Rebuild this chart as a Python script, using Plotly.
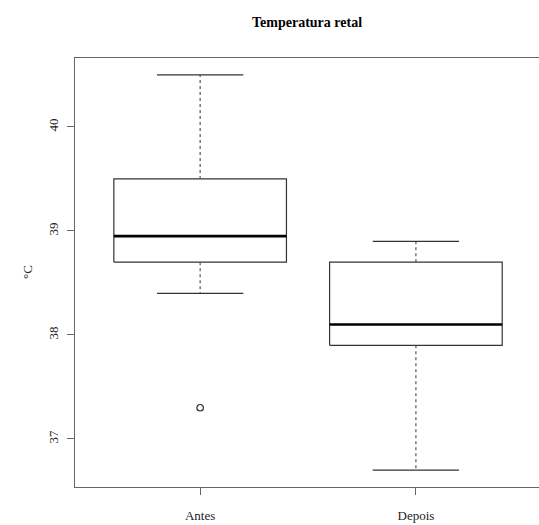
import plotly.graph_objects as go

# Data
groups = ["Antes", "Depois"]
lower_whisker = [38.4, 36.7]
q1 = [38.7, 37.9]
median = [38.95, 38.1]
q3 = [39.5, 38.7]
upper_whisker = [40.5, 38.9]
outliers = [[37.3], []]

y_ticks = [37, 38, 39, 40]

BOX_HALF = 0.4
CAP_HALF = 0.2
LINE_COL = "#333333"
FRAME_COL = "#666666"
FONT = "Liberation Serif, Times New Roman, serif"

fig = go.Figure()
for i, g in enumerate(groups):
    x = i + 1
    # box
    fig.add_trace(go.Scatter(
        x=[x - BOX_HALF, x + BOX_HALF, x + BOX_HALF, x - BOX_HALF, x - BOX_HALF],
        y=[q1[i], q1[i], q3[i], q3[i], q1[i]],
        mode="lines", line=dict(color=LINE_COL, width=1.2), hoverinfo="skip"))
    # whiskers (dashed)
    fig.add_trace(go.Scatter(
        x=[x, x, None, x, x],
        y=[q3[i], upper_whisker[i], None, q1[i], lower_whisker[i]],
        mode="lines", line=dict(color="#555555", width=1.2, dash="3px,3px"),
        hoverinfo="skip"))
    # caps
    fig.add_trace(go.Scatter(
        x=[x - CAP_HALF, x + CAP_HALF, None, x - CAP_HALF, x + CAP_HALF],
        y=[upper_whisker[i], upper_whisker[i], None, lower_whisker[i], lower_whisker[i]],
        mode="lines", line=dict(color=LINE_COL, width=1.2), hoverinfo="skip"))
    # median
    fig.add_trace(go.Scatter(
        x=[x - BOX_HALF, x + BOX_HALF], y=[median[i], median[i]],
        mode="lines", line=dict(color="black", width=2.6), hoverinfo="skip"))
    # outliers
    if outliers[i]:
        fig.add_trace(go.Scatter(
            x=[x] * len(outliers[i]), y=outliers[i], mode="markers",
            marker=dict(symbol="circle-open", size=6.5, color=LINE_COL,
                        line=dict(width=1.2)),
            hoverinfo="skip"))

fig.update_layout(
    width=539, height=525,
    margin=dict(l=75, r=0, t=58, b=38),
    paper_bgcolor="white", plot_bgcolor="white",
    showlegend=False,
    font=dict(family=FONT, size=13, color="#222222"),
    title=dict(text="<b>Temperatura retal</b>", x=0.5, xref="paper",
               y=0.958, yref="container", yanchor="middle",
               font=dict(family=FONT, size=14, color="black")),
    xaxis=dict(range=[0.42, 2.5705], tickvals=[1, 2], ticktext=groups,
               showgrid=False, zeroline=False, showline=True, mirror=True,
               linecolor=FRAME_COL, linewidth=1.2, ticks="outside", ticklen=7,
               tickcolor=FRAME_COL, tickwidth=1.2, ticklabelstandoff=9,
               tickfont=dict(family=FONT, size=13, color="#222222")),
    yaxis=dict(range=[36.538, 40.663], tickvals=y_ticks,
               ticktext=[str(t) for t in y_ticks],
               showgrid=False, zeroline=False, showline=True, mirror=False,
               linecolor=FRAME_COL, linewidth=1.2, ticks="outside", ticklen=7,
               tickcolor=FRAME_COL, tickwidth=1.2, tickangle=-90,
               ticklabelstandoff=4,
               tickfont=dict(family=FONT, size=13, color="#222222")),
    annotations=[dict(text="°C", xref="paper", yref="paper", x=0, y=0.5,
                      xshift=-57, textangle=-90, showarrow=False,
                      font=dict(family=FONT, size=13, color="#222222"))],
)

fig.write_html("out.html")
